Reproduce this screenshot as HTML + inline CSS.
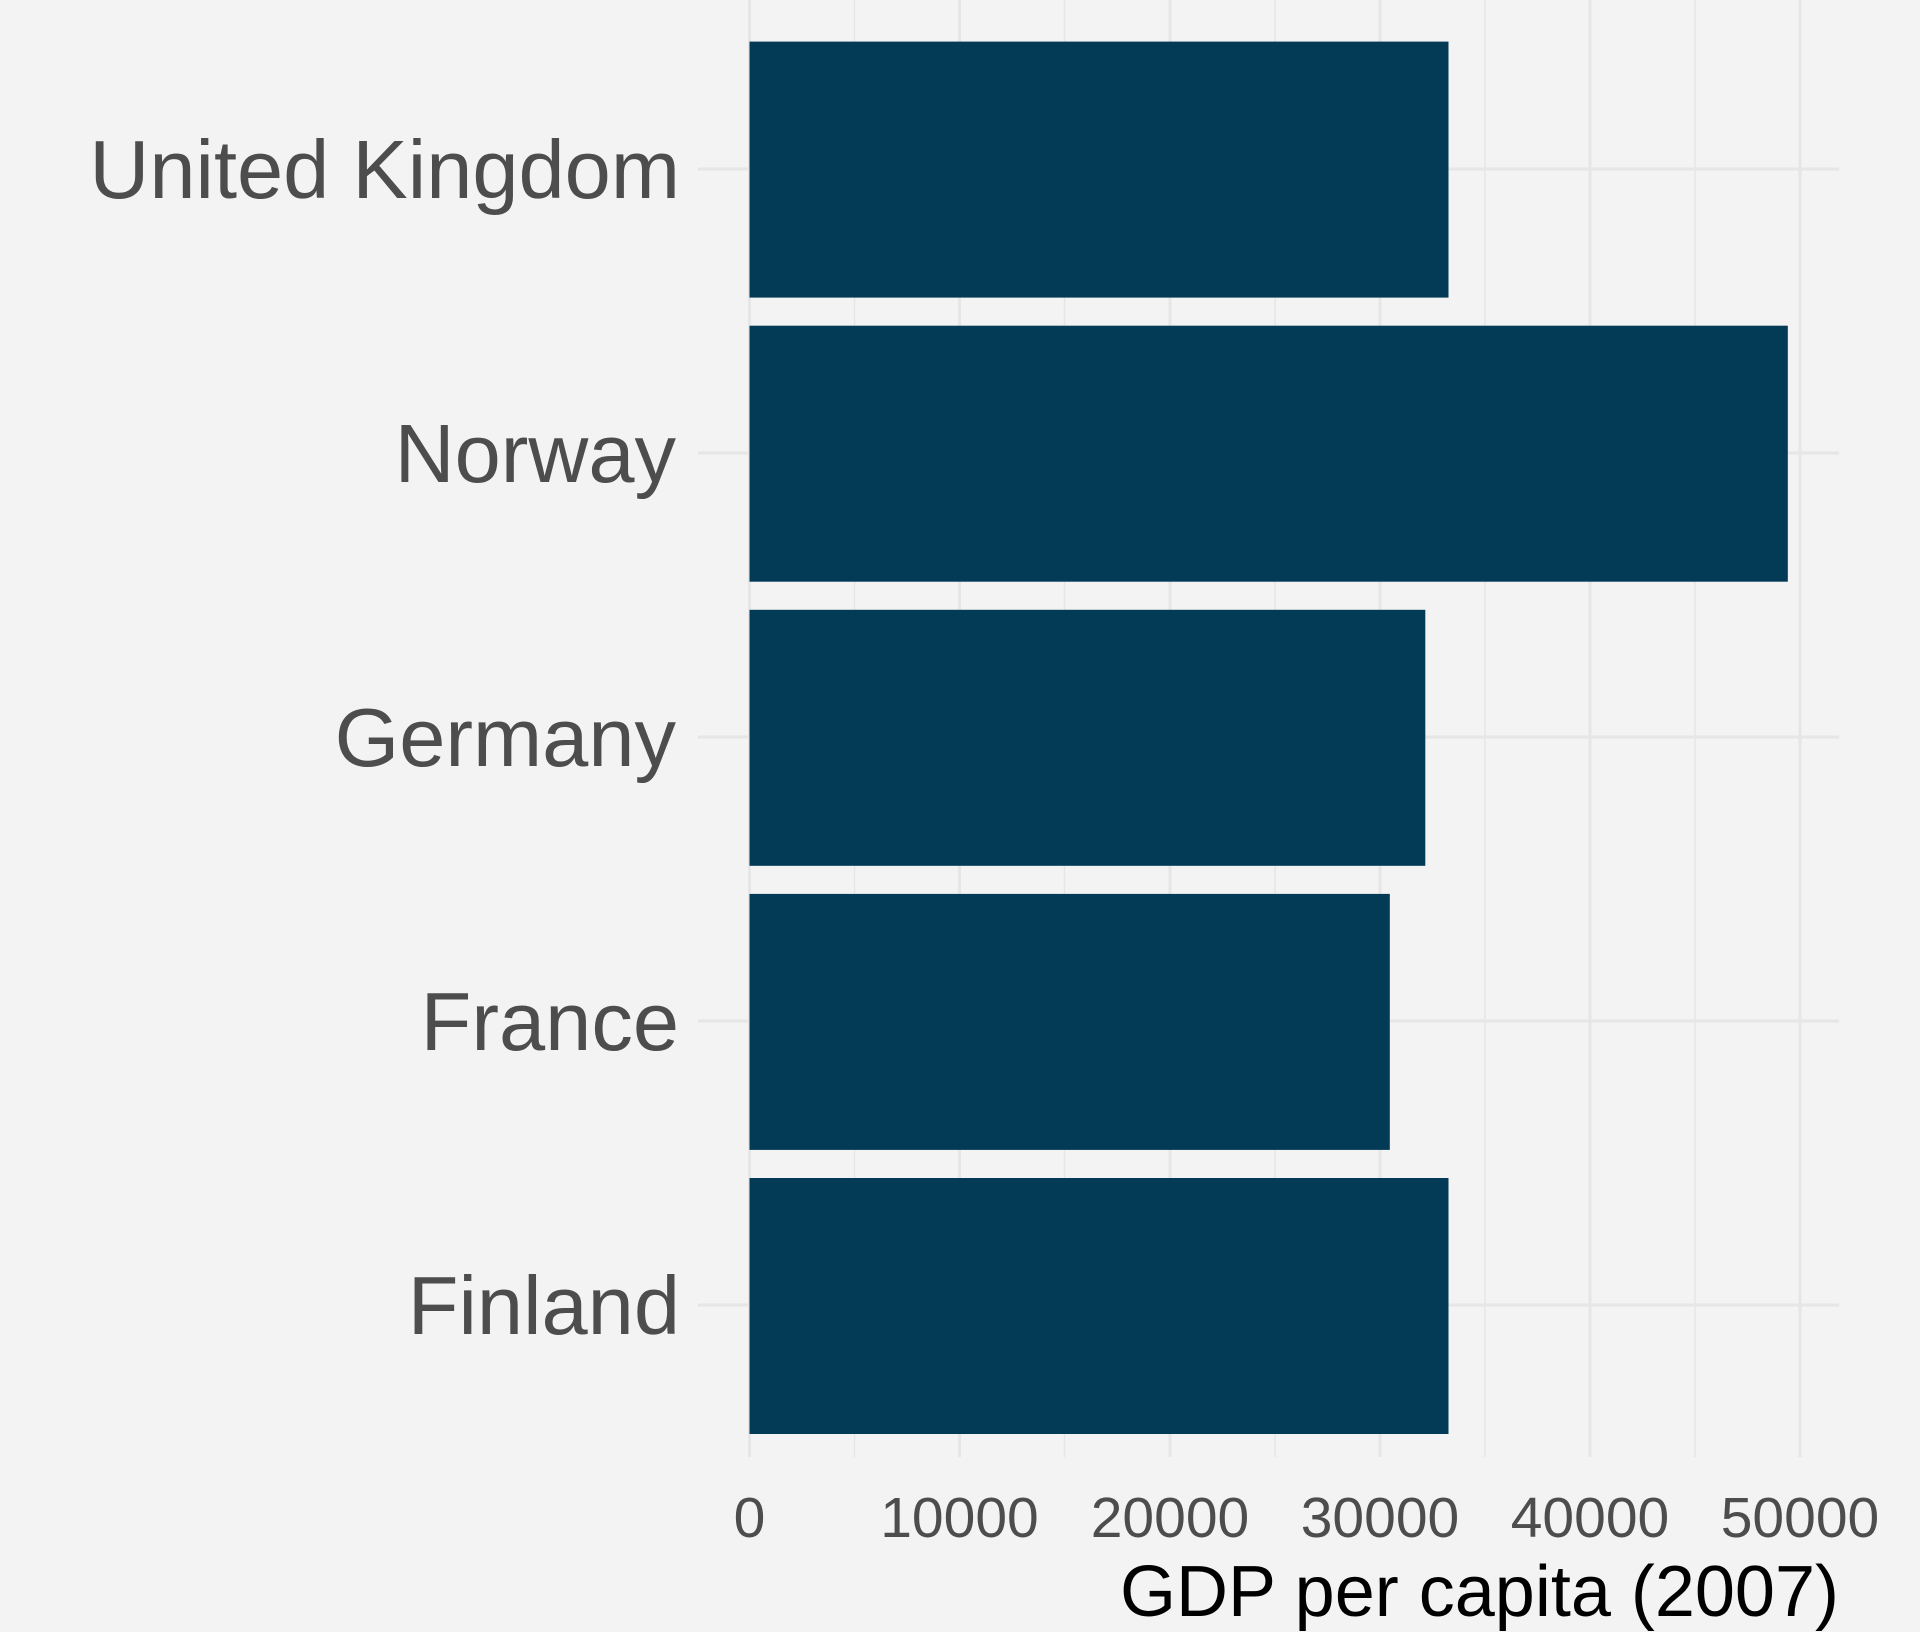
<!DOCTYPE html>
<html><head><meta charset="utf-8"><style>
html,body{margin:0;padding:0;background:#f3f3f3;}
svg{display:block;}
</style></head><body>
<svg width="1920" height="1632" viewBox="0 0 1920 1632" xmlns="http://www.w3.org/2000/svg">
<rect width="1920" height="1632" fill="#f3f3f3"/>
<g stroke="#e6e6e6" stroke-width="2">
<line x1="854.5" y1="0" x2="854.5" y2="1457" stroke-width="1.5"/>
<line x1="1064.5" y1="0" x2="1064.5" y2="1457" stroke-width="1.5"/>
<line x1="1275" y1="0" x2="1275" y2="1457" stroke-width="1.5"/>
<line x1="1485" y1="0" x2="1485" y2="1457" stroke-width="1.5"/>
<line x1="1695" y1="0" x2="1695" y2="1457" stroke-width="1.5"/>
<line x1="749.5" y1="0" x2="749.5" y2="1457" stroke-width="3"/>
<line x1="959.5" y1="0" x2="959.5" y2="1457" stroke-width="3"/>
<line x1="1170" y1="0" x2="1170" y2="1457" stroke-width="3"/>
<line x1="1380" y1="0" x2="1380" y2="1457" stroke-width="3"/>
<line x1="1590" y1="0" x2="1590" y2="1457" stroke-width="3"/>
<line x1="1800" y1="0" x2="1800" y2="1457" stroke-width="3"/>
<line x1="698" y1="169" x2="1839" y2="169" stroke-width="3"/>
<line x1="698" y1="453" x2="1839" y2="453" stroke-width="3"/>
<line x1="698" y1="737" x2="1839" y2="737" stroke-width="3"/>
<line x1="698" y1="1021" x2="1839" y2="1021" stroke-width="3"/>
<line x1="698" y1="1305" x2="1839" y2="1305" stroke-width="3"/>
</g>
<g fill="#033a56">
<rect x="749.5" y="41.6" width="699" height="256"/>
<rect x="749.5" y="325.7" width="1038.3" height="256"/>
<rect x="749.5" y="609.8" width="675.8" height="256"/>
<rect x="749.5" y="893.9" width="640.3" height="256"/>
<rect x="749.5" y="1178" width="699" height="256"/>
</g>
<g font-family="Liberation Sans, sans-serif" fill="#4d4d4d" font-size="83" text-anchor="end">
<text x="680" y="198">United Kingdom</text>
<text x="676" y="482">Norway</text>
<text x="676" y="766">Germany</text>
<text x="679" y="1050">France</text>
<text x="680" y="1334">Finland</text>
</g>
<g font-family="Liberation Sans, sans-serif" fill="#4d4d4d" font-size="57" text-anchor="middle">
<text x="749.5" y="1537">0</text>
<text x="959.5" y="1537">10000</text>
<text x="1170" y="1537">20000</text>
<text x="1380" y="1537">30000</text>
<text x="1590" y="1537">40000</text>
<text x="1800" y="1537">50000</text>
</g>
<text x="1839" y="1616" font-family="Liberation Sans, sans-serif" font-size="72" fill="#000" text-anchor="end">GDP per capita (2007)</text>
</svg>
</body></html>
